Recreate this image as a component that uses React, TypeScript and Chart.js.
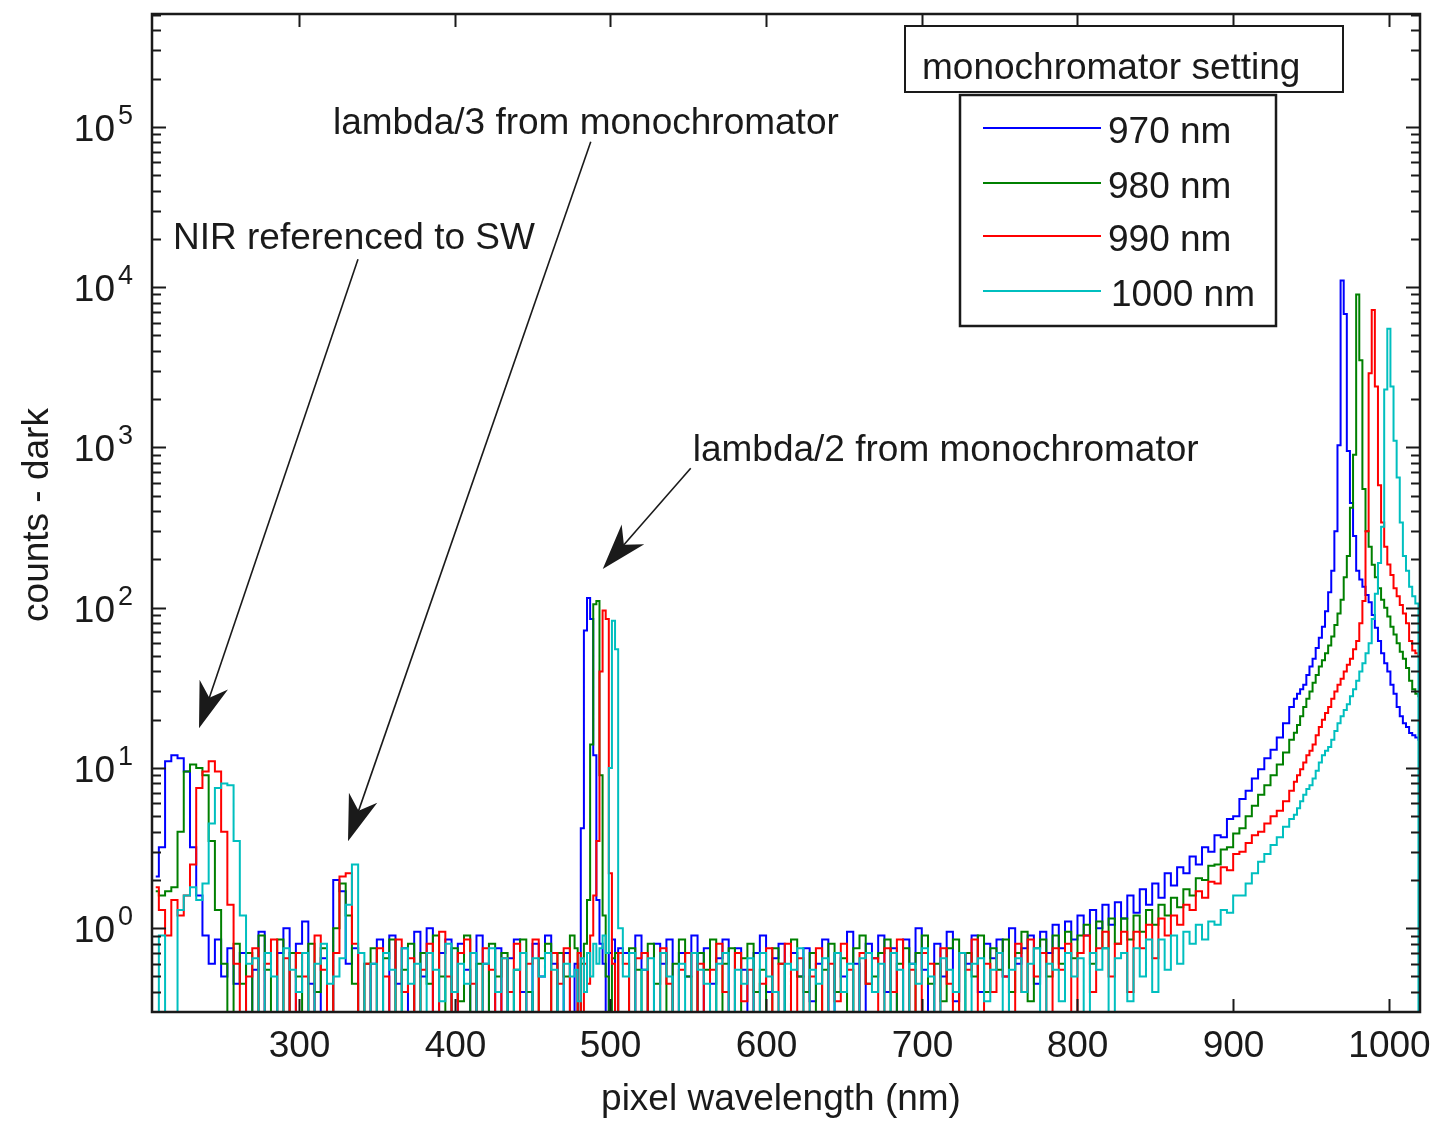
import React, { useEffect, useRef } from "react";
import { Chart, registerables } from "chart.js";

Chart.register(...registerables);

// ---------------- DATA ----------------
// wavelength grid (nm), in four segments
const wavelengthA = [
  208, 212, 216, 220, 224, 228, 232, 236, 240, 244,
  248, 252, 256, 260, 264, 268, 272, 276, 280, 284,
  288, 292, 296, 300, 304, 308, 312, 316, 320, 324,
  328, 332, 336, 340, 344, 348, 352, 356, 360, 364,
  368, 372, 376, 380, 384, 388, 392, 396, 400, 404,
  408, 412, 416, 420, 424, 428, 432, 436, 440, 444,
  448, 452, 456, 460, 464, 468, 472, 476,
];
const wavelengthB = [478, 480, 482, 484, 486, 488, 490, 492, 494, 496, 498, 500, 502, 504, 506];
const wavelengthC = [
  510, 514, 518, 522, 526, 530, 534, 538, 542, 546,
  550, 554, 558, 562, 566, 570, 574, 578, 582, 586,
  590, 594, 598, 602, 606, 610, 614, 618, 622, 626,
  630, 634, 638, 642, 646, 650, 654, 658, 662, 666,
  670, 674, 678, 682, 686, 690, 694, 698, 702, 706,
  710, 714, 718, 722, 726, 730, 734, 738, 742, 746,
  750, 754, 758, 762, 766, 770, 774, 778, 782, 786,
  790, 794, 798, 802, 806, 810, 814, 818, 822, 826,
  830, 834, 838, 842, 846, 850, 854, 858, 862, 866,
  870, 874, 878, 882, 886, 890, 894, 898, 902, 906,
  910, 914, 918, 922, 926, 930, 934, 938,
];
const wavelengthD = [
  940, 942, 944, 946, 948, 950, 952, 954, 956, 958,
  960, 962, 964, 966, 968, 970, 972, 974, 976, 978,
  980, 982, 984, 986, 988, 990, 992, 994, 996, 998,
  1000, 1002, 1004, 1006, 1008, 1010, 1012, 1014, 1016, 1018,
  1020,
];

// 970 nm setting (blue)
const blueA = [
  2.1, 3.2, 11, 12, 11.5, 9.5, 3.2, 1.6, 0.9, 0.6,
  0.85, 0.5, 0.75, 0.45, 0.7, 0.2, 0.55, 0.95, 0.3, 0.2,
  0.7, 1.0, 0.25, 0.8, 1.1, 0.45, 0.2, 0.65, 0.3, 2.0,
  1.7, 0.6, 0.75, 0.2, 0.25, 0.6, 0.85, 0.3, 0.9, 0.45,
  0.75, 0.2, 0.95, 0.5, 1.0, 0.3, 0.7, 0.85, 0.2, 0.8,
  0.55, 0.2, 0.9, 0.6, 0.3, 0.75, 0.2, 0.65, 0.85, 0.4,
  0.25, 0.8, 0.5, 0.9, 0.6, 0.2, 0.7, 0.3,
];
const blueB = [0.6, 0.25, 4.2, 72, 115, 85, 12, 1.5, 0.8, 0.6, 0.25, 0.7, 0.85, 0.3, 0.75];
const blueC = [
  0.7, 0.3, 0.9, 0.55, 0.2, 0.8, 0.6, 0.85, 0.25, 0.7,
  0.5, 0.9, 0.2, 0.75, 0.45, 0.65, 0.85, 0.3, 0.75, 0.55,
  0.2, 0.7, 0.9, 0.4, 0.65, 0.8, 0.25, 0.7, 0.5, 0.75,
  0.35, 0.6, 0.85, 0.2, 0.7, 0.5, 0.95, 0.6, 0.3, 0.8,
  0.65, 0.9, 0.4, 0.75, 0.25, 0.85, 0.6, 1.0, 0.55, 0.3,
  0.8, 0.5, 0.95, 0.35, 0.7, 0.6, 0.9, 0.4, 0.8, 0.65,
  0.85, 0.5, 1.0, 0.6, 0.75, 0.9, 0.45, 0.95, 0.7, 1.05,
  0.75, 1.1, 0.85, 1.2, 0.9, 1.3, 1.0, 1.4, 1.05, 1.45,
  1.15, 1.6, 1.25, 1.75, 1.4, 1.9, 1.55, 2.2, 1.85, 2.4,
  2.2, 2.8, 2.5, 3.2, 3.0, 3.8, 3.7, 4.8, 5.0, 6.4,
  7.2, 8.6, 9.8, 11.5, 13, 15.5, 19, 24,
];
const blueD = [
  27, 29, 31, 33, 38, 43, 48, 56, 65, 76,
  95, 125, 170, 300, 1030, 11000, 6800, 950, 450, 280,
  170, 150, 135, 120, 108, 90, 75, 62, 52, 45,
  40, 33, 29, 24, 21, 19, 18, 16.5, 16, 15.5,
  15,
];

// 980 nm setting (green)
const greenA = [
  1.7, 1.6, 1.7, 1.8, 4, 9.5, 10.5, 10, 9, 3.5,
  1.3, 0.6, 0.2, 0.8, 0.45, 0.7, 0.25, 0.9, 0.55, 0.3,
  0.85, 0.2, 0.7, 0.5, 0.2, 0.8, 0.4, 0.75, 0.25, 1.0,
  1.9, 1.2, 0.45, 0.2, 0.6, 0.75, 0.2, 0.65, 0.85, 0.3,
  0.55, 0.8, 0.2, 0.7, 0.45, 0.9, 0.5, 0.2, 0.75, 0.35,
  0.9, 0.25, 0.6, 0.2, 0.8, 0.5, 0.7, 0.2, 0.55, 0.85,
  0.4, 0.2, 0.65, 0.8, 0.3, 0.7, 0.5, 0.9,
];
const greenB = [0.75, 0.3, 0.6, 0.8, 1.5, 14, 105, 110, 9, 1.2, 0.5, 0.25, 0.65, 0.7, 0.3];
const greenC = [
  0.3, 0.75, 0.55, 0.2, 0.8, 0.45, 0.7, 0.25, 0.6, 0.85,
  0.5, 0.2, 0.7, 0.55, 0.85, 0.3, 0.6, 0.75, 0.2, 0.65,
  0.8, 0.4, 0.55, 0.2, 0.75, 0.6, 0.3, 0.85, 0.5, 0.4,
  0.7, 0.25, 0.55, 0.8, 0.4, 0.65, 0.2, 0.75, 0.9, 0.45,
  0.5, 0.7, 0.85, 0.3, 0.6, 0.75, 0.25, 0.7, 0.9, 0.45,
  0.6, 0.35, 0.75, 0.85, 0.3, 0.7, 0.5, 0.9, 0.4, 0.75,
  0.55, 0.85, 0.4, 0.7, 0.95, 0.35, 0.75, 0.85, 0.5, 0.9,
  0.6, 0.95, 0.65, 0.9, 1.05, 0.6, 1.1, 0.75, 1.15, 0.8,
  1.15, 0.85, 1.2, 0.95, 1.3, 1.05, 1.4, 1.2, 1.55, 1.35,
  1.75, 1.6, 2.05, 2.0, 2.45, 2.5, 3.1, 3.2, 3.9, 4.2,
  5.0, 5.8, 6.8, 7.8, 9.0, 10.5, 12.5, 15,
];
const greenD = [
  16.6, 18.5, 21, 24, 27, 30, 34, 38, 43, 47,
  52, 58, 66, 78, 92, 112, 155, 210, 420, 900,
  9000, 3500, 550, 300, 240, 185, 155, 132, 112, 100,
  88, 76, 68, 60, 53, 48, 42, 35, 31, 29,
  28,
];

// 990 nm setting (red)
const redA = [
  1.8, 1.3, 0.9, 1.5, 1.2, 1.6, 2.5, 7.5, 9.5, 11,
  9.5, 4, 1.4, 0.6, 0.2, 0.5, 0.75, 0.2, 0.6, 0.85,
  0.2, 0.65, 0.3, 0.7, 0.5, 0.2, 0.9, 0.55, 0.25, 0.7,
  2.1, 2.2, 0.8, 0.3, 0.6, 0.2, 0.75, 0.5, 0.2, 0.85,
  0.4, 0.65, 0.2, 0.55, 0.8, 0.3, 0.95, 0.5, 0.2, 0.7,
  0.85, 0.45, 0.2, 0.75, 0.55, 0.2, 0.65, 0.4, 0.8, 0.25,
  0.6, 0.85, 0.3, 0.2, 0.7, 0.45, 0.75, 0.2,
];
const redB = [0.3, 0.7, 0.2, 0.6, 0.45, 0.9, 1.6, 3.5, 40, 96, 85, 2.2, 0.6, 0.3, 0.7];
const redC = [
  0.6, 0.2, 0.65, 0.7, 0.3, 0.25, 0.75, 0.45, 0.2, 0.55,
  0.7, 0.3, 0.6, 0.2, 0.55, 0.8, 0.4, 0.2, 0.7, 0.35,
  0.55, 0.2, 0.45, 0.75, 0.2, 0.6, 0.8, 0.3, 0.65, 0.2,
  0.5, 0.75, 0.2, 0.6, 0.35, 0.8, 0.55, 0.2, 0.7, 0.45,
  0.65, 0.2, 0.75, 0.4, 0.85, 0.3, 0.55, 0.2, 0.7, 0.6,
  0.3, 0.75, 0.45, 0.2, 0.7, 0.55, 0.85, 0.25, 0.6, 0.4,
  0.7, 0.5, 0.2, 0.8, 0.4, 0.85, 0.5, 0.7, 0.25, 0.75,
  0.55, 0.8, 0.3, 0.7, 0.9, 0.4, 0.75, 0.95, 0.5, 0.8,
  0.95, 0.4, 0.95, 0.75, 1.05, 0.65, 1.15, 0.9, 1.2, 1.05,
  1.4, 1.3, 1.7, 1.55, 1.95, 1.9, 2.4, 2.3, 2.9, 3.0,
  3.4, 3.8, 4.0, 4.5, 5.0, 5.4, 6.2, 7.2,
];
const redD = [
  8.2, 9, 9.8, 10.8, 12, 12.8, 14, 16, 18, 20,
  22, 24, 27, 30, 33, 36, 40, 44, 48, 55,
  62, 80, 110, 300, 2900, 7200, 2400, 580, 340, 240,
  186, 160, 132, 118, 104, 92, 80, 62, 54, 52,
  50,
];

// 1000 nm setting (cyan)
const cyanA = [
  0.2, 0.9, 0.3, 0.25, 1.3, 1.6, 1.8, 1.5, 1.9, 4.5,
  7.5, 8, 7.8, 3.5, 1.2, 0.6, 0.65, 0.3, 0.7, 0.5,
  0.2, 0.75, 0.55, 0.4, 0.7, 0.25, 0.6, 0.8, 0.45, 0.5,
  0.65, 1.4, 2.5, 0.7, 0.3, 0.6, 0.2, 0.7, 0.55, 0.3,
  0.75, 0.45, 0.6, 0.2, 0.7, 0.55, 0.35, 0.8, 0.4, 0.6,
  0.45, 0.7, 0.25, 0.6, 0.75, 0.4, 0.65, 0.3, 0.55, 0.7,
  0.3, 0.65, 0.5, 0.7, 0.55, 0.25, 0.6, 0.5,
];
const cyanB = [0.55, 0.35, 0.65, 0.4, 0.7, 0.5, 0.8, 0.6, 0.75, 0.9, 0.7, 10, 83, 55, 1.0];
const cyanC = [
  0.5, 0.7, 0.25, 0.55, 0.65, 0.3, 0.7, 0.5, 0.2, 0.6,
  0.3, 0.7, 0.55, 0.45, 0.2, 0.6, 0.7, 0.3, 0.55, 0.45,
  0.65, 0.25, 0.7, 0.5, 0.4, 0.2, 0.6, 0.55, 0.75, 0.3,
  0.55, 0.45, 0.65, 0.2, 0.7, 0.4, 0.6, 0.3, 0.65, 0.7,
  0.4, 0.6, 0.25, 0.7, 0.55, 0.3, 0.6, 0.45, 0.75, 0.5,
  0.3, 0.65, 0.55, 0.4, 0.7, 0.25, 0.6, 0.65, 0.35, 0.55,
  0.7, 0.3, 0.55, 0.65, 0.4, 0.6, 0.75, 0.3, 0.6, 0.55,
  0.35, 0.7, 0.5, 0.65, 0.25, 0.7, 0.55, 0.75, 0.3, 0.65,
  0.7, 0.35, 0.75, 0.5, 0.85, 0.4, 0.85, 0.55, 0.9, 0.6,
  0.95, 0.8, 1.05, 0.85, 1.1, 1.05, 1.3, 1.25, 1.6, 1.6,
  1.9, 2.2, 2.6, 2.9, 3.3, 3.7, 4.3, 4.8,
];
const cyanD = [
  5.1, 5.6, 6.2, 6.8, 7.4, 7.8, 8.6, 9.6, 10.8, 12,
  12.8, 13.5, 15, 17, 19, 21, 23, 25, 28, 31,
  35, 40, 45, 52, 60, 85, 122, 190, 320, 2300,
  5500, 2400, 1100, 650, 340, 210, 170, 135, 118, 106,
  0.1,
];

const xTickValues = [300, 400, 500, 600, 700, 800, 900, 1000];
const yTickExponents = [0, 1, 2, 3, 4, 5];
const seriesNames = ["970 nm", "980 nm", "990 nm", "1000 nm"];
const legendTitle = "monochromator setting";
const xAxisTitle = "pixel wavelength (nm)";
const yAxisTitle = "counts - dark";
const annotationTexts = [
  "NIR referenced to SW",
  "lambda/3 from monochromator",
  "lambda/2 from monochromator",
];

// ---------------- CONFIG ----------------
const X_MIN = 205.6;
const X_MAX = 1020;
const Y_MIN = 0.349;
const Y_MAX = 506000;
const seriesColors = ["#0000ff", "#008000", "#ff0000", "#00bfbf"];
const FONT = '"Liberation Sans", Arial, Helvetica, sans-serif';
const INK = "#1a1a1a";

// annotation anchors in data units: text (x, baseline y), arrow start, arrow tip
const annotationAnchors = [
  { tx: 219.1, ty: 17200, sx: 337.9, sy: 14900, ex: 235.8, ey: 17.7 },
  { tx: 321.8, ty: 90500, sx: 487.4, sy: 80800, ex: 331.5, ey: 3.49 },
  { tx: 552.9, ty: 820, sx: 551.6, sy: 742, ex: 495.1, ey: 174 },
];

const wavelength = [...wavelengthA, ...wavelengthB, ...wavelengthC, ...wavelengthD];
const seriesValues = [
  [...blueA, ...blueB, ...blueC, ...blueD],
  [...greenA, ...greenB, ...greenC, ...greenD],
  [...redA, ...redB, ...redC, ...redD],
  [...cyanA, ...cyanB, ...cyanC, ...cyanD],
];

function drawArrow(ctx: CanvasRenderingContext2D, x0: number, y0: number, x1: number, y1: number) {
  const dx = x1 - x0;
  const dy = y1 - y0;
  const len = Math.hypot(dx, dy);
  const ux = dx / len;
  const uy = dy / len;
  const nx = -uy;
  const ny = ux;
  const L = 46;
  const W = 15;
  ctx.beginPath();
  ctx.moveTo(x0, y0);
  ctx.lineTo(x1 - ux * L * 0.6, y1 - uy * L * 0.6);
  ctx.stroke();
  ctx.beginPath();
  ctx.moveTo(x1, y1);
  ctx.lineTo(x1 - ux * L + nx * W, y1 - uy * L + ny * W);
  ctx.lineTo(x1 - ux * L * 0.7, y1 - uy * L * 0.7);
  ctx.lineTo(x1 - ux * L - nx * W, y1 - uy * L - ny * W);
  ctx.closePath();
  ctx.fill();
}

const overlayPlugin = {
  id: "matlabOverlay",
  afterDraw(chart: any) {
    const ctx: CanvasRenderingContext2D = chart.ctx;
    const { left, right, top, bottom } = chart.chartArea;
    const xs = chart.scales.x;
    const ys = chart.scales.y;
    ctx.save();
    ctx.strokeStyle = INK;
    ctx.fillStyle = INK;

    // frame
    ctx.lineWidth = 2.5;
    ctx.strokeRect(left, top, right - left, bottom - top);

    // x ticks (bottom + top) and labels
    ctx.lineWidth = 2;
    ctx.font = `37px ${FONT}`;
    ctx.textAlign = "center";
    ctx.textBaseline = "alphabetic";
    xTickValues.forEach((v) => {
      const px = Math.round(xs.getPixelForValue(v)) + 0.5;
      ctx.beginPath();
      ctx.moveTo(px, bottom);
      ctx.lineTo(px, bottom - 13);
      ctx.moveTo(px, top);
      ctx.lineTo(px, top + 13);
      ctx.stroke();
      ctx.fillText(String(v), px, bottom + 45);
    });

    // y ticks: majors + minors (left + right)
    for (let e = -1; e <= 5; e++) {
      for (let m = 1; m <= 9; m++) {
        const v = m * Math.pow(10, e);
        if (v < Y_MIN || v > Y_MAX) continue;
        const py = Math.round(ys.getPixelForValue(v)) + 0.5;
        const len = m === 1 ? 14 : 9;
        ctx.beginPath();
        ctx.moveTo(left, py);
        ctx.lineTo(left + len, py);
        ctx.moveTo(right, py);
        ctx.lineTo(right - len, py);
        ctx.stroke();
      }
    }
    yTickExponents.forEach((e) => {
      const py = ys.getPixelForValue(Math.pow(10, e));
      ctx.font = `37px ${FONT}`;
      ctx.textAlign = "right";
      ctx.fillText("10", left - 37, py + 14);
      ctx.font = `27px ${FONT}`;
      ctx.textAlign = "left";
      ctx.fillText(String(e), left - 34, py - 3);
    });

    // axis titles
    ctx.font = `37px ${FONT}`;
    ctx.textAlign = "center";
    ctx.fillText(xAxisTitle, (left + right) / 2 - 5, bottom + 98);
    ctx.save();
    ctx.translate(48, (top + bottom) / 2 + 2);
    ctx.rotate(-Math.PI / 2);
    ctx.fillText(yAxisTitle, 0, 0);
    ctx.restore();

    // annotations
    ctx.textAlign = "left";
    ctx.lineWidth = 1.6;
    annotationAnchors.forEach((a, i) => {
      const tx = xs.getPixelForValue(a.tx);
      const ty = ys.getPixelForValue(a.ty);
      ctx.fillText(annotationTexts[i], tx, ty);
      drawArrow(
        ctx,
        xs.getPixelForValue(a.sx),
        ys.getPixelForValue(a.sy),
        xs.getPixelForValue(a.ex),
        ys.getPixelForValue(a.ey)
      );
    });

    // legend title box
    ctx.fillStyle = "#ffffff";
    ctx.fillRect(905, 26, 438, 66);
    ctx.lineWidth = 2;
    ctx.strokeRect(905, 26, 438, 66);
    ctx.fillStyle = INK;
    ctx.fillText(legendTitle, 922, 79);

    // legend box
    ctx.fillStyle = "#ffffff";
    ctx.fillRect(960, 95, 316, 231);
    ctx.lineWidth = 2.5;
    ctx.strokeRect(960, 95, 316, 231);
    const rowY = [128, 183, 236, 291];
    seriesNames.forEach((name, i) => {
      ctx.strokeStyle = seriesColors[i];
      ctx.lineWidth = 2;
      ctx.beginPath();
      ctx.moveTo(983, rowY[i]);
      ctx.lineTo(1101, rowY[i]);
      ctx.stroke();
      ctx.fillStyle = INK;
      ctx.fillText(name, i === 3 ? 1111 : 1108, rowY[i] + 15);
    });
    ctx.restore();
  },
};

export default function App() {
  const canvasRef = useRef<HTMLCanvasElement | null>(null);

  useEffect(() => {
    if (!canvasRef.current) return;
    const datasets = seriesNames.map((name, s) => ({
      label: name,
      data: wavelength.map((x, i) => ({ x, y: seriesValues[s][i] })),
      borderColor: seriesColors[s],
      backgroundColor: seriesColors[s],
      borderWidth: 2,
      pointRadius: 0,
      stepped: "middle" as const,
      fill: false,
      clip: 0,
      order: 3 - s,
    }));
    const chart = new Chart(canvasRef.current, {
      type: "line",
      data: { datasets },
      options: {
        responsive: false,
        animation: false,
        devicePixelRatio: 1,
        layout: { padding: { left: 152, top: 14, right: 21, bottom: 112 } },
        plugins: { legend: { display: false }, tooltip: { enabled: false } },
        scales: {
          x: { type: "linear", min: X_MIN, max: X_MAX, display: false },
          y: { type: "logarithmic", min: Y_MIN, max: Y_MAX, display: false },
        },
      },
      plugins: [overlayPlugin],
    });
    return () => chart.destroy();
  }, []);

  return (
    <div style={{ position: "absolute", left: 0, top: 0, width: 1441, height: 1124, background: "#fff" }}>
      <canvas ref={canvasRef} width={1441} height={1124} style={{ display: "block" }} />
    </div>
  );
}
